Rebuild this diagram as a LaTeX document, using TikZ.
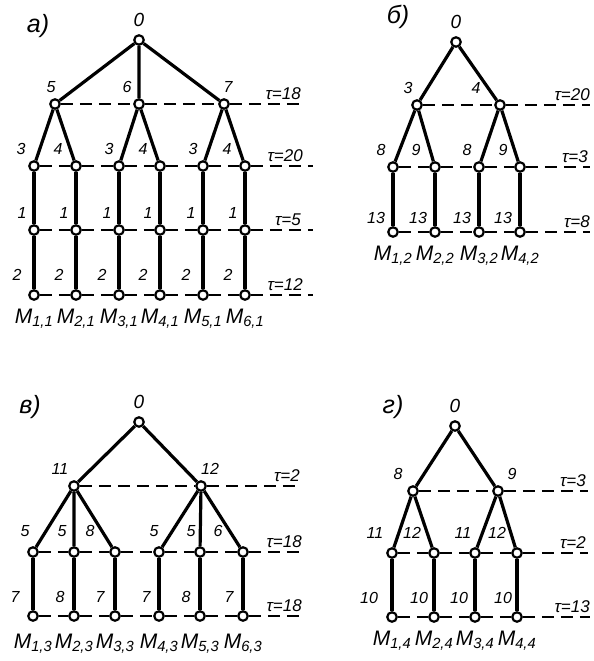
\documentclass[tikz,border=0pt]{standalone}
\usepackage{fontspec}
\setmainfont{Liberation Sans}
\usetikzlibrary{positioning}
\newcommand\mach[1]{M\textsubscript{#1}}
\tikzset{
  vx/.style={circle,draw,fill=white,line width=2.2pt,minimum size=9.5pt,inner sep=0pt},
  edge/.style={line width=3.2pt},
  lvl/.style={line width=1.8pt,dash pattern=on 12pt off 7pt},
  num/.style={font=\fontsize{16}{16}\selectfont\itshape,inner sep=1pt},
  rootnum/.style={font=\fontsize{19}{19}\selectfont\itshape,inner sep=1pt,yshift=2pt},
  tau/.style={font=\fontsize{17}{17}\selectfont\itshape,inner sep=1pt,anchor=south east},
  mlab/.style={font=\fontsize{21}{21}\selectfont\itshape,inner sep=1pt,yshift=-3pt},
  panel/.style={font=\fontsize{25}{25}\selectfont\itshape}
}
\begin{document}
\begin{tikzpicture}[x=1pt,y=-1pt,label distance=4pt]
\useasboundingbox (0,0) rectangle (594,661);
\node[panel] (pa) at (38,26) {а)};
\node[vx,label={[rootnum]above:0}] (a0) at (139,40) {};
\node[vx,label={[num,xshift=-4pt]above:5}] (a11) at (55,104) {};
\node[vx,label={[num,xshift=-12pt]above:6}] (a12) at (139,104) {};
\node[vx,label={[num,xshift=4pt]above:7}] (a13) at (224,104) {};
\foreach \i/\x/\t/\s in {1/34/3/-13,2/76/4/-18,3/119/3/-10,4/160/4/-17,5/203/3/-10,6/245/4/-18} {
  \node[vx,label={[num,xshift=\s pt]above:\t}] (a2\i) at (\x,166) {};
  \node[vx,label={[num,xshift=-12pt]above:1}] (a3\i) at (\x,230) {};
  \node[vx,label={[num,xshift=-17pt,yshift=3pt]above:2},label={[mlab]below:\mach{\i,1}}] (a4\i) at (\x,295) {};
}
\coordinate (ea1) at (300,104);
\coordinate (ea2) at (313,166);
\coordinate (ea3) at (313,230);
\coordinate (ea4) at (313,295);
\draw[lvl] (a11) -- (a12) -- (a13) -- (ea1);
\foreach \l in {2,3,4}
  \draw[lvl] (a\l1) -- (a\l2) -- (a\l3) -- (a\l4) -- (a\l5) -- (a\l6) -- (ea\l);
\draw[edge] (a0) -- (a11) (a0) -- (a12) (a0) -- (a13);
\draw[edge] (a11) -- (a21) (a11) -- (a22) (a12) -- (a23) (a12) -- (a24) (a13) -- (a25) (a13) -- (a26);
\foreach \i in {1,...,6}
  \draw[edge] (a2\i) -- (a3\i) -- (a4\i);
\node[tau] (ta1) at (302,101) {τ=18};
\node[tau] (ta2) at (304,163) {τ=20};
\node[tau] (ta3) at (302,227) {τ=5};
\node[tau] (ta4) at (304,292) {τ=12};

\node[panel] (pb) at (398,17) {б)};
\node[vx,label={[rootnum]above:0}] (b0) at (456,42) {};
\node[vx,label={[num,xshift=-9pt]above:3}] (b11) at (417,105) {};
\node[vx,label={[num,xshift=-24pt]above:4}] (b12) at (500,105) {};
\foreach \i/\x/\t/\s in {1/393/8/-12,2/435/9/-19,3/479/8/-12,4/520/9/-17} {
  \node[vx,label={[num,xshift=\s pt]above:\t}] (b2\i) at (\x,167) {};
  \node[vx,label={[num,xshift=-17pt,yshift=-3pt]above:13},label={[mlab]below:\mach{\i,2}}] (b3\i) at (\x,232) {};
}
\coordinate (eb1) at (590,105);
\coordinate (eb2) at (590,167);
\coordinate (eb3) at (590,232);
\draw[lvl] (b11) -- (b12) -- (eb1);
\foreach \l in {2,3}
  \draw[lvl] (b\l1) -- (b\l2) -- (b\l3) -- (b\l4) -- (eb\l);
\draw[edge] (b0) -- (b11) (b0) -- (b12);
\draw[edge] (b11) -- (b21) (b11) -- (b22) (b12) -- (b23) (b12) -- (b24);
\foreach \i in {1,...,4}
  \draw[edge] (b2\i) -- (b3\i);
\node[tau] (tb1) at (591,102) {τ=20};
\node[tau] (tb2) at (589,164) {τ=3};
\node[tau] (tb3) at (591,229) {τ=8};

\node[panel] (pc) at (30,407) {в)};
\node[vx,label={[rootnum]above:0}] (c0) at (139,422) {};
\node[vx,label={[num,xshift=-14pt]above:11}] (c11) at (74,486) {};
\node[vx,label={[num,xshift=9pt]above:12}] (c12) at (201,486) {};
\foreach \i/\x/\t/\s/\u/\r in {1/33/5/-8/7/-18,2/74/5/-12/8/-14,3/115/8/-25/7/-15,4/159/5/-5/7/-13,5/200/5/-9/8/-14,6/243/6/-25/7/-14} {
  \node[vx,label={[num,xshift=\s pt,yshift=4pt]above:\t}] (c2\i) at (\x,552) {};
  \node[vx,label={[num,xshift=\r pt,yshift=2pt]above:\u},label={[mlab,yshift=-4pt]below:\mach{\i,3}}] (c3\i) at (\x,616) {};
}
\coordinate (ec1) at (300,486);
\coordinate (ec2) at (300,552);
\coordinate (ec3) at (300,616);
\draw[lvl] (c11) -- (c12) -- (ec1);
\foreach \l in {2,3}
  \draw[lvl] (c\l1) -- (c\l2) -- (c\l3) -- (c\l4) -- (c\l5) -- (c\l6) -- (ec\l);
\draw[edge] (c0) -- (c11) (c0) -- (c12);
\draw[edge] (c11) -- (c21) (c11) -- (c22) (c11) -- (c23) (c12) -- (c24) (c12) -- (c25) (c12) -- (c26);
\foreach \i in {1,...,6}
  \draw[edge] (c2\i) -- (c3\i);
\node[tau] (tc1) at (301,483) {τ=2};
\node[tau] (tc2) at (303,549) {τ=18};
\node[tau] (tc3) at (303,613) {τ=18};

\node[panel] (pd) at (393,407) {г)};
\node[vx,label={[rootnum]above:0}] (d0) at (455,426) {};
\node[vx,label={[num,xshift=-15pt]above:8}] (d11) at (413,491) {};
\node[vx,label={[num,xshift=14pt]above:9}] (d12) at (498,491) {};
\foreach \i/\x/\t/\s/\r in {1/392/11/-17/-23,2/434/12/-22/-15,3/475/11/-12/-16,4/517/12/-20/-14} {
  \node[vx,label={[num,xshift=\s pt,yshift=3pt]above:\t}] (d2\i) at (\x,553) {};
  \node[vx,label={[num,xshift=\r pt,yshift=2pt]above:10},label={[mlab]below:\mach{\i,4}}] (d3\i) at (\x,617) {};
}
\coordinate (ed1) at (588,491);
\coordinate (ed2) at (588,553);
\coordinate (ed3) at (590,617);
\draw[lvl] (d11) -- (d12) -- (ed1);
\foreach \l in {2,3}
  \draw[lvl] (d\l1) -- (d\l2) -- (d\l3) -- (d\l4) -- (ed\l);
\draw[edge] (d0) -- (d11) (d0) -- (d12);
\draw[edge] (d11) -- (d21) (d11) -- (d22) (d12) -- (d23) (d12) -- (d24);
\foreach \i in {1,...,4}
  \draw[edge] (d2\i) -- (d3\i);
\node[tau] (td1) at (587,488) {τ=3};
\node[tau] (td2) at (587,550) {τ=2};
\node[tau] (td3) at (591,614) {τ=13};
\end{tikzpicture}
\end{document}
